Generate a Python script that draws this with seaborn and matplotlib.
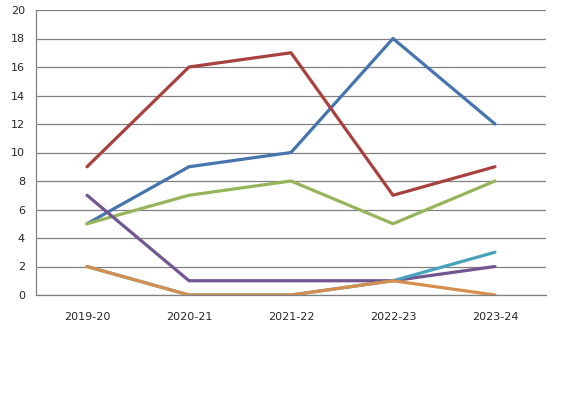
import matplotlib
matplotlib.use("Agg")
import matplotlib.pyplot as plt
import seaborn as sns
import pandas as pd

categories = ["2019-20", "2020-21", "2021-22", "2022-23", "2023-24"]
series_blue = [5, 9, 10, 18, 12]
series_red = [9, 16, 17, 7, 9]
series_green = [5, 7, 8, 5, 8]
series_purple = [7, 1, 1, 1, 2]
series_teal = [2, 0, 0, 1, 3]
series_orange = [2, 0, 0, 1, 0]
y_ticks = list(range(0, 21, 2))

names = ["S1", "S2", "S3", "S4", "S5", "S6"]
values = [series_blue, series_red, series_green, series_purple, series_teal, series_orange]
colors = ["#4674AE", "#A8423F", "#95B55A", "#715692", "#47A2BD", "#D68E4E"]

rows = []
for n, vals in zip(names, values):
    for i, (c, v) in enumerate(zip(categories, vals)):
        rows.append({"series": n, "x": i, "cat": c, "value": v})
df = pd.DataFrame(rows)

sns.set_style("white")
plt.rcParams['font.family'] = ['DejaVu Sans']

fig = plt.figure(figsize=(5.73, 3.99), dpi=100)
ax = fig.add_axes([36/573, (399-295)/399, (546-36)/573, (295-10)/399])

sns.lineplot(data=df, x="x", y="value", hue="series", palette=dict(zip(names, colors)),
             hue_order=names, linewidth=2.3, legend=False, ax=ax, sort=False)

ax.set_xlim(-0.5, 4.5)
ax.set_ylim(0, 20)
ax.set_yticks(y_ticks)
ax.set_yticklabels([str(t) for t in y_ticks], fontsize=8)
ax.set_xticks(range(len(categories)))
ax.set_xticklabels(categories, fontsize=8)
ax.set_xticks([i - 0.5 for i in range(len(categories) + 1)], minor=True)
ax.tick_params(axis='x', which='major', length=0, pad=12)
ax.tick_params(axis='x', which='minor', length=4, color="#808080", direction='out')
ax.tick_params(axis='y', length=4, color="#808080", direction='out', pad=4)
ax.grid(axis='y', color="#808080", linewidth=0.9)
ax.set_axisbelow(True)
ax.set_xlabel("")
ax.set_ylabel("")
for s in ["top", "right"]:
    ax.spines[s].set_visible(False)
for s in ["left", "bottom"]:
    ax.spines[s].set_color("#808080")
    ax.spines[s].set_linewidth(0.9)

fig.savefig("out.png", dpi=100)
